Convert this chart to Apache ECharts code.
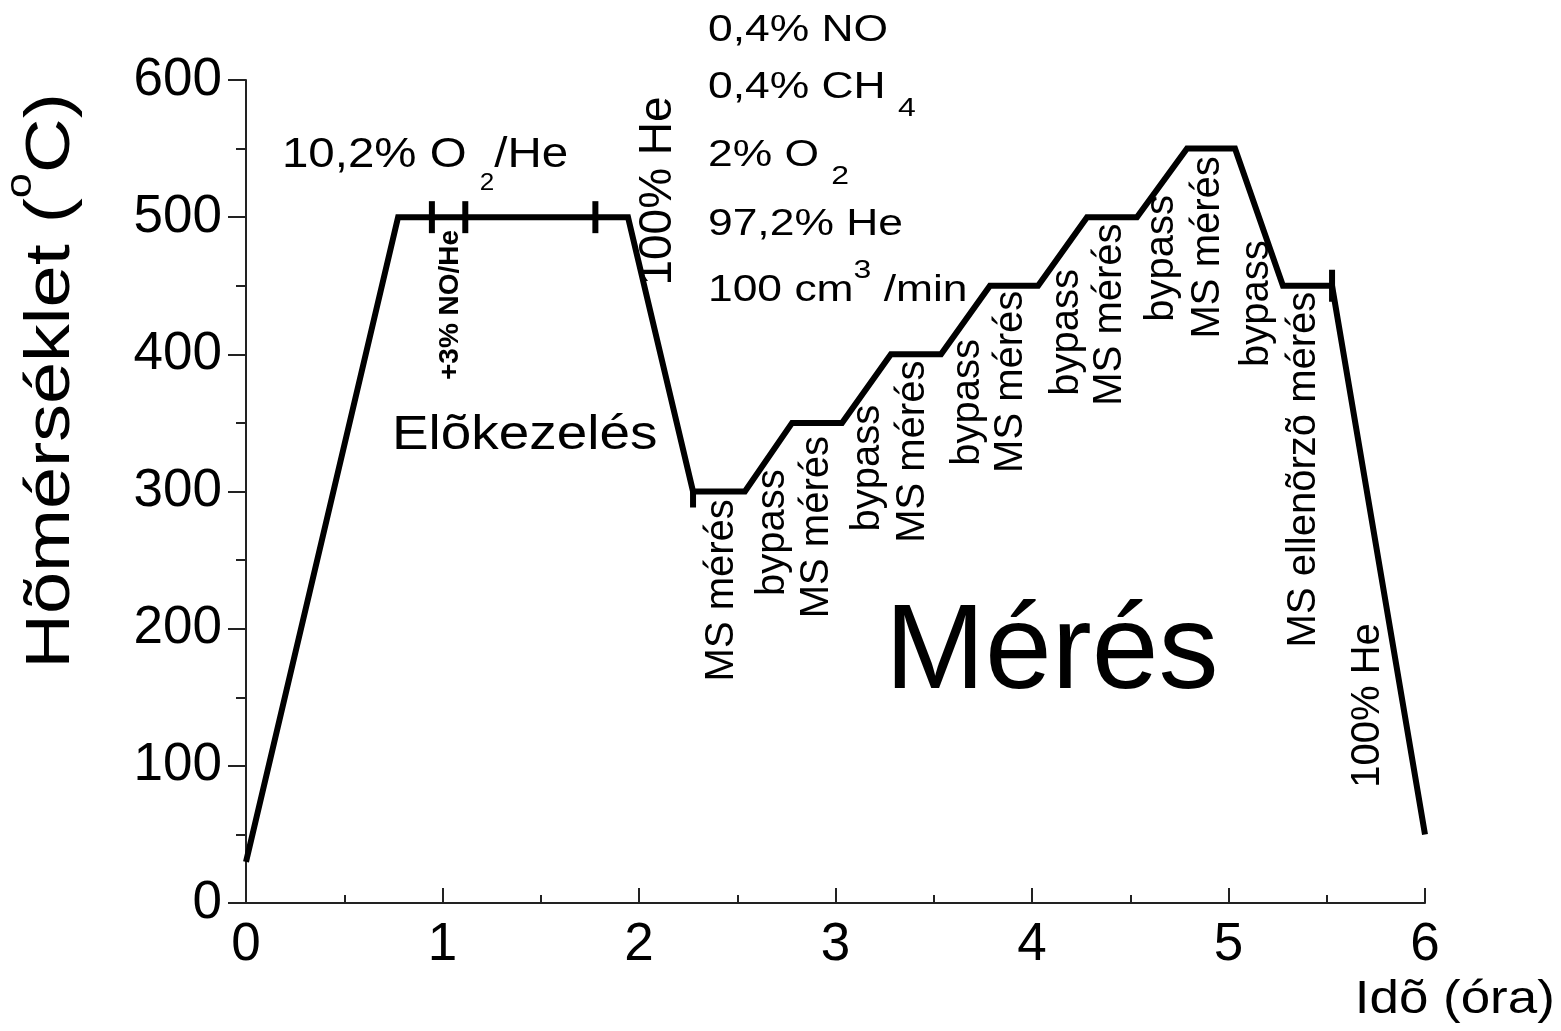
<!DOCTYPE html>
<html>
<head>
<meta charset="utf-8">
<script src="https://cdn.jsdelivr.net/npm/echarts@6/dist/echarts.min.js"></script>
<style>
    html, body { margin: 0; padding: 0; background: #fff; }
    #main { width: 1561px; height: 1031px; }
</style>
</head>
<body>
<div id="main"></div>
<script>
    // hőmérséklet program: idő (óra) -> hőmérséklet (°C)
    const times = [0, 0.774, 1.944, 2.275, 2.539, 2.779, 3.033, 3.282, 3.537, 3.786, 4.031, 4.280, 4.534, 4.789, 5.033, 5.277, 5.527, 6.0];
    const temps = [30, 500, 500, 300, 300, 350, 350, 400, 400, 450, 450, 500, 500, 550, 550, 450, 450, 50];

    // gas switch marks on the plateaus
    const markTimes = [0.946, 1.116, 1.778, 5.527];
    const markTemps = [500, 500, 500, 450];
    const stubTimes = [2.275];
    const stubTemps = [300];

    const xTicks = [0, 1, 2, 3, 4, 5, 6];
    const yTicks = [0, 100, 200, 300, 400, 500, 600];

    // vertical notes along the steps (anchor = text centre, in hours / °C)
    const stepNotes = ['MS mérés', 'bypass', 'MS mérés', 'bypass', 'MS mérés', 'bypass', 'MS mérés', 'bypass',
        'MS mérés', 'bypass', 'MS mérés', 'bypass', 'MS ellenõrzõ mérés', '100% He'];
    const stepNoteX = [2.422, 2.682, 2.906, 3.165, 3.394, 3.674, 3.893, 4.178, 4.397, 4.662, 4.896, 5.145, 5.384, 5.710];
    const stepNoteY = [228, 270, 274, 317, 329, 365, 380, 416, 429, 470, 478, 437, 316, 144];

    // feed gas composition (text lines, left anchor)
    const gasLines = [
        ['0,4% NO'],
        ['0,4% CH ', ['4', 'sub']],
        ['2% O ', ['2', 'sub']],
        ['97,2% He'],
        ['100 cm', ['3', 'sup'], ' /min']
    ];
    const gasX = 2.351;
    const gasY = [635.7, 594.2, 544.6, 494.3, 446.2];

    const FONT = '"Liberation Sans", Arial, Helvetica, sans-serif';
    const measureCtx = document.createElement('canvas').getContext('2d');

    function textWidth(t, size, weight) {
        measureCtx.font = weight + ' ' + size + 'px ' + FONT;
        return measureCtx.measureText(t).width;
    }

    // build text pieces (with sub/superscripts) as one graphic group
    function textGroup(parts, pos, opt) {
        const size = opt.size;
        const weight = opt.weight || 'normal';
        const kids = [];
        let x = 0;
        parts.forEach(p => {
            const t = Array.isArray(p) ? p[0] : p;
            const kind = Array.isArray(p) ? p[1] : null;
            const s = kind ? size * (opt.small || 0.6) : size;
            let dy = 0;
            if (kind === 'sub') dy = size * (opt.subDy || 0.55);
            if (kind === 'sup') dy = -size * (opt.supDy || 0.55);
            kids.push({
                type: 'text',
                x: x,
                y: dy,
                style: {
                    text: t,
                    font: weight + ' ' + s + 'px ' + FONT,
                    fill: '#000',
                    textAlign: 'left',
                    textVerticalAlign: 'middle',
                    align: 'left',
                    verticalAlign: 'middle'
                }
            });
            x += textWidth(t, s, weight);
        });
        if (opt.center) kids.forEach(k => { k.x -= x / 2; });
        return {
            type: 'group',
            silent: true,
            x: pos[0],
            y: pos[1],
            rotation: opt.rotate ? Math.PI / 2 : 0,
            scaleX: opt.sx || 1,
            children: kids
        };
    }

    const chart = echarts.init(document.getElementById('main'));

    const option = {
        animation: false,
        backgroundColor: '#fff',
        grid: {
            left: 246,
            right: 136,
            top: 80,
            bottom: 128,
            containLabel: false
        },
        xAxis: {
            type: 'value',
            min: xTicks[0],
            max: xTicks[xTicks.length - 1],
            interval: 1,
            splitLine: { show: false },
            axisLine: { show: true, onZero: false, lineStyle: { color: '#222', width: 2 } },
            axisTick: { show: true, inside: true, length: 15, lineStyle: { color: '#222', width: 2 } },
            minorTick: { show: true, splitNumber: 2, length: 8, lineStyle: { color: '#222', width: 2 } },
            axisLabel: { color: '#000', fontSize: 53, fontFamily: FONT, margin: 16 }
        },
        yAxis: {
            type: 'value',
            min: yTicks[0],
            max: yTicks[yTicks.length - 1],
            interval: 100,
            splitLine: { show: false },
            axisLine: { show: true, onZero: false, lineStyle: { color: '#222', width: 2 } },
            axisTick: { show: true, inside: false, length: 18, lineStyle: { color: '#222', width: 2 } },
            minorTick: { show: true, splitNumber: 2, length: 10, lineStyle: { color: '#222', width: 2 } },
            axisLabel: { color: '#000', fontSize: 53, fontFamily: FONT, margin: 24 }
        },
        series: [
            {
                type: 'line',
                data: times.map((t, i) => [t, temps[i]]),
                symbol: 'none',
                lineStyle: { color: '#000', width: 6, join: 'miter' },
                z: 3
            },
            {
                type: 'scatter',
                data: markTimes.map((t, i) => [t, markTemps[i]]),
                symbol: 'rect',
                symbolSize: [6, 32],
                itemStyle: { color: '#000', opacity: 1 },
                z: 4
            },
            {
                type: 'scatter',
                data: stubTimes.map((t, i) => [t, stubTemps[i]]),
                symbol: 'rect',
                symbolSize: [6, 16],
                symbolOffset: [0, 8],
                itemStyle: { color: '#000', opacity: 1 },
                z: 4
            }
        ]
    };
    chart.setOption(option);

    const px = (x, y) => chart.convertToPixel({ xAxisIndex: 0, yAxisIndex: 0 }, [x, y]);

    const graphics = [];

    stepNotes.forEach((t, i) => {
        graphics.push(textGroup([t], px(stepNoteX[i], stepNoteY[i]), { size: 40, rotate: true, center: true }));
    });

    gasLines.forEach((parts, i) => {
        graphics.push(textGroup(parts, px(gasX, gasY[i]), { size: 37, sx: 1.2, small: 0.72, subDy: 0.55, supDy: 0.55 }));
    });

    graphics.push(textGroup(['10,2% O ', ['2', 'sub'], '/He'], px(0.183, 545.3), { size: 42, sx: 1.13, small: 0.55, subDy: 0.67 }));
    graphics.push(textGroup(['Elõkezelés'], px(0.743, 341.2), { size: 49, sx: 1.12 }));
    graphics.push(textGroup(['+3% NO/He'], px(1.038, 436.0), { size: 28, weight: 'bold', rotate: true, center: true }));
    graphics.push(textGroup(['100% He'], px(2.097, 519.1), { size: 46, rotate: true, center: true }));
    graphics.push(textGroup(['Mérés'], px(3.252, 180.8), { size: 120 }));

    // axis names
    graphics.push(textGroup(['Hõmérséklet (', ['o', 'sup'], 'C)'], px(-0.987, 380.6), { size: 63, sx: 1.2, rotate: true, center: true, small: 0.6, supDy: 0.5 }));
    graphics.push(textGroup(['Idõ (óra)'], px(5.643, -70.7), { size: 46, sx: 1.15 }));

    chart.setOption({ graphic: graphics });
</script>
</body>
</html>
